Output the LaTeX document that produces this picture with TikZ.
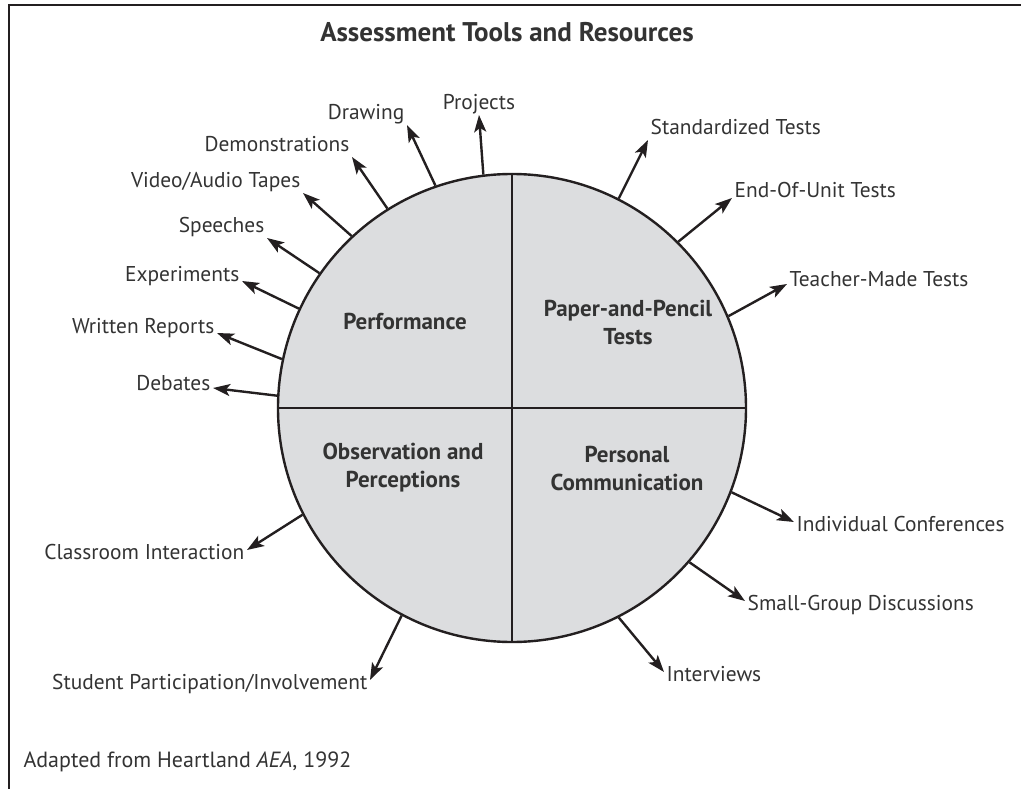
\documentclass[tikz,border=0pt]{standalone}
\usepackage{fontspec}
\setmainfont{PT Sans}
\usepackage{xcolor}
\usetikzlibrary{arrows.meta}
\definecolor{discgray}{HTML}{DCDDDF}
\definecolor{ink}{HTML}{231F20}
\definecolor{inktext}{HTML}{333333}

\begin{document}
\begin{tikzpicture}[x=1pt,y=1pt]
\tikzset{every node/.style={text=inktext,font=\fontsize{21.4}{25}\selectfont}}
\tikzset{tool/.style={inner sep=2.5pt,text height=0.72em,text depth=0.24em}}
\tikzset{region/.style={font=\bfseries\fontsize{23}{28}\selectfont,align=center}}
\tikzset{toolarrow/.style={draw=ink,line width=2.4pt,-{Stealth[length=17pt,width=12pt,inset=4pt]}}}
\tikzset{rim/.style={draw=ink,line width=2.4pt}}

\useasboundingbox (0,0) rectangle (1021,-789);
\draw[ink,line width=2pt] (9,-789) |- (1021,-5);

\node[font=\bfseries\fontsize{27}{30}\selectfont] (title) at (507,-32) {Assessment Tools and Resources};

\node[circle,rim,fill=discgray,minimum size=468pt,inner sep=0pt] (disc) at (512,-408) {};
\draw[rim] (disc.north) -- (disc.south);
\draw[rim] (disc.west) -- (disc.east);

\node[region] (performance) at (405,-321) {Performance};
\node[region] (paper) at (628,-322) {Paper-and-Pencil\\Tests};
\node[region] (observation) at (403,-468) {Observation and\\Perceptions};
\node[region] (personal) at (627,-468) {Personal\\Communication};

\node[tool,anchor=south] (projects) at (479,-115) {Projects};
\node[tool,anchor=south east] (drawing) at (407,-125) {Drawing};
\node[tool,anchor=south east] (demos) at (352,-157) {Demonstrations};
\node[tool,anchor=south east] (tapes) at (303,-193) {Video/Audio Tapes};
\node[tool,anchor=south east] (speeches) at (267,-238) {Speeches};
\node[tool,anchor=base east] (experiments) at (242,-281) {Experiments};
\node[tool,anchor=base east] (reports) at (217,-333) {Written Reports};
\node[tool,anchor=east] (debates) at (213,-388) {Debates};
\node[tool,anchor=north east] (classroom) at (247,-550) {Classroom Interaction};
\node[tool,anchor=north east] (participation) at (370,-680) {Student Participation/Involvement};
\node[tool,anchor=north west] (interviews) at (664,-672) {Interviews};
\node[tool,anchor=north west] (smallgroup) at (745,-601) {Small-Group Discussions};
\node[tool,anchor=north west] (conferences) at (794,-522) {Individual Conferences};
\node[tool,anchor=west] (teachertests) at (787,-284) {Teacher-Made Tests};
\node[tool,anchor=base west] (unittests) at (732,-198) {End-Of-Unit Tests};
\node[tool,anchor=south west] (standardized) at (648,-140) {Standardized Tests};

\draw[toolarrow] (disc.97) -- (projects.south);
\draw[toolarrow] (disc.109.4) -- (drawing.south east);
\draw[toolarrow] (disc.122.3) -- (demos.south east);
\draw[toolarrow] (disc.133.1) -- (tapes.south east);
\draw[toolarrow] (disc.145.3) -- (speeches.south east);
\draw[toolarrow] (disc.155.8) -- (experiments.base east);
\draw[toolarrow] (disc.168.2) -- (reports.base east);
\draw[toolarrow] (disc.177.6) -- (debates.east);
\draw[toolarrow] (disc.207.2) -- (classroom.north east);
\draw[toolarrow] (disc.242.3) -- (participation.north east);
\draw[toolarrow] (disc.297.8) -- (interviews.north west);
\draw[toolarrow] (disc.319) -- (smallgroup.north west);
\draw[toolarrow] (disc.339.7) -- (conferences.north west);
\draw[toolarrow] (disc.23.6) -- (teachertests.west);
\draw[toolarrow] (disc.45.2) -- (unittests.base west);
\draw[toolarrow] (disc.63.4) -- (standardized.south west);

\node[anchor=base west,font=\fontsize{22}{26}\selectfont] (credit) at (20,-767) {Adapted from Heartland \emph{AEA}, 1992};

\end{tikzpicture}
\end{document}
